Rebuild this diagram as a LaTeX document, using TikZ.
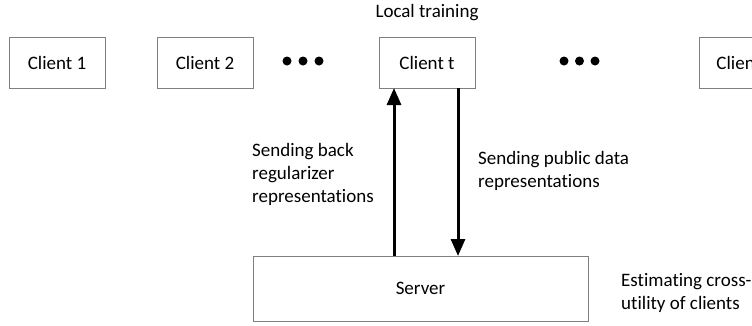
\documentclass[tikz,border=0pt]{standalone}
\usepackage{fontspec}
\setmainfont{Carlito}[Ligatures=NoCommon]
\usetikzlibrary{arrows.meta}
\begin{document}
\begin{tikzpicture}[x=1pt,y=-1pt,
  box/.style={draw=black!50,line width=1pt,fill=white,inner sep=0pt,font=\fontsize{19}{23}\selectfont},
  lbl/.style={anchor=north west,align=left,inner sep=0pt,font=\fontsize{19}{23}\selectfont},
  dot/.style={circle,fill=black,inner sep=0pt,minimum size=9pt},
  flow/.style={line width=3pt,-{Triangle[width=14pt,length=17pt]}}]
\useasboundingbox (0,0) rectangle (752,325);
\begin{scope}
\clip (0,0) rectangle (752,325);
\node[box,minimum width=96pt,minimum height=51pt] (c1) at (57,62.5) {Client 1};
\node[box,minimum width=96pt,minimum height=51pt] (c2) at (205,62.5) {Client 2};
\node[box,minimum width=96pt,minimum height=51pt] (ct) at (427,62.5) {Client t};
\node[box,minimum width=96pt,minimum height=51pt] (cn) at (747,62.5) {Client N};
\end{scope}
\node[dot] (d1) at (287,61) {};
\node[dot] (d2) at (303,61) {};
\node[dot] (d3) at (319,61) {};
\node[dot] (d4) at (564,61) {};
\node[dot] (d5) at (579.5,61) {};
\node[dot] (d6) at (595,61) {};
\node[anchor=base,inner sep=0pt,font=\fontsize{19}{23}\selectfont] (lt) at (427,17) {Local training};
\node[box,minimum width=335pt,minimum height=65pt] (srv) at (420.5,288.5) {Server};
\coordinate (upS) at (394,256);
\coordinate (upT) at (394,88);
\coordinate (dnS) at (458,88);
\coordinate (dnT) at (458,256);
\draw[flow] (upS) -- (upT);
\draw[flow] (dnS) -- (dnT);
\node[lbl] (l1) at (252,143.5) {Sending back\\regularizer\\representations};
\node[lbl] (l2) at (478,151) {Sending public data\\representations};
\node[lbl] (l3) at (621,273.5) {Estimating cross-\\utility of clients};
\end{tikzpicture}
\end{document}
